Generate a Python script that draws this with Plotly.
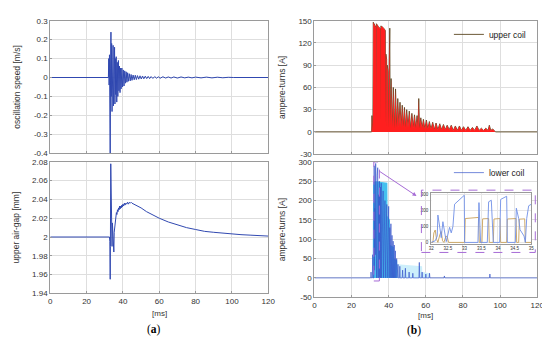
import plotly.graph_objects as go

# ---------------- data ----------------
speed_t = [0, 32.0, 32.2, 32.4, 32.6, 32.8, 33.0, 33.2, 33.4, 33.6, 33.8, 34.0, 34.2, 34.4, 34.6, 34.8,
           35.0, 35.2, 35.4, 35.6, 35.8, 36.0, 36.3, 36.6, 36.9, 37.2, 37.5, 37.8, 38.1, 38.4, 38.7, 39.0,
           39.4, 39.8, 40.2, 40.6, 41.0, 41.4, 41.8, 42.2, 42.6, 43.0, 43.5, 44.0, 44.5, 45.0,
           45.6, 46.2, 46.8, 47.4, 48.0, 48.7, 49.4, 50.1, 50.8, 51.5, 52.3, 53.1, 53.9, 54.7, 55.5,
           56.5, 57.5, 58.5, 59.5, 60.5, 62.0, 63.5, 65.0, 66.5, 68.0, 70.0, 72.0, 74.0, 76.0, 78.0, 80.0,
           83.0, 86.0, 89.0, 92.0, 95.0, 98.0, 101.0, 120.0]
speed_v = [0, 0, 0.10, -0.04, 0.12, -0.12, -0.45, 0.05, 0.24, -0.10, 0.18, -0.18, 0.15, -0.12, 0.17, -0.15,
           0.13, -0.11, 0.16, -0.14, 0.10, -0.09, 0.11, -0.13, 0.08, -0.10, 0.09, -0.07, 0.06, -0.08, 0.05, -0.06,
           0.05, -0.05, 0.04, -0.045, 0.035, -0.03, 0.03, -0.025, 0.025, -0.02, 0.02, -0.018, 0.016, -0.015,
           0.013, -0.012, 0.012, -0.011, 0.01, -0.009, 0.009, -0.008, 0.008, -0.007, 0.007, -0.006, 0.006, -0.006, 0.005,
           -0.005, 0.005, -0.004, 0.004, -0.004, 0.004, -0.003, 0.003, -0.003, 0.003, -0.003, 0.003, -0.002, 0.002, -0.002, 0.002,
           -0.002, 0.002, -0.002, 0.0015, -0.0015, 0.001, 0, 0]

gap_t = [0, 32.6, 32.8, 33.0, 33.1, 33.3, 33.5, 33.7, 34.0, 34.2, 34.4, 34.6, 34.8, 35.0, 35.2, 35.5,
         35.8, 36.1, 36.4, 36.7, 37.0, 37.3, 37.6, 37.9, 38.2, 38.5, 38.8, 39.1, 39.4, 39.7, 40.0,
         40.4, 40.8, 41.2, 41.6, 42.0, 42.5, 43.0, 43.5, 44.0, 44.5, 45.0, 46, 48, 50, 53, 56, 60,
         65, 70, 75, 80, 85, 90, 95, 100, 105, 110, 115, 120]
gap_v = [2.000, 2.000, 1.995, 1.955, 1.990, 2.078, 2.040, 2.000, 1.990, 2.015, 2.000, 1.990, 1.986, 1.984, 2.005, 2.010,
         2.018, 2.020, 2.026, 2.024, 2.029, 2.027, 2.031, 2.029, 2.033, 2.030, 2.033, 2.031, 2.034, 2.032, 2.035,
         2.033, 2.036, 2.034, 2.036, 2.035, 2.037, 2.035, 2.037, 2.036, 2.037, 2.036, 2.035, 2.033, 2.031, 2.027, 2.024, 2.020,
         2.016, 2.013, 2.010, 2.008, 2.006, 2.005, 2.004, 2.003, 2.0025, 2.002, 2.0015, 2.001]

upper_t = [0, 30.8, 31.0, 31.2, 31.5, 31.7, 32.5, 33.2, 33.3, 33.4, 34.5, 35.6, 35.7, 35.8, 37.0,
           38.2, 38.3, 38.5, 38.9, 39.0, 39.2, 39.7, 39.8, 40.6, 40.8,
           41.3, 41.9, 42.5, 43.1, 43.7, 44.3, 44.9, 45.5, 46.1, 46.7, 47.3, 47.9, 48.5, 49.1, 49.7,
           50.4, 51.1, 51.8, 52.5, 53.2, 53.9, 54.6, 55.3, 55.8, 56.2, 56.6, 57.3, 58.0, 58.7, 59.5,
           60.3, 61.1, 61.9, 62.8, 63.7, 64.6, 65.5, 66.5, 67.5, 68.5, 69.5, 70.5, 71.5, 72.6, 73.7,
           74.8, 75.9, 77.0, 78.1, 79.2, 80.3, 81.5, 82.7, 83.9, 85.1, 86.3, 87.5, 88.7, 89.9, 91.1,
           92.3, 93.5, 94.2, 95.0, 96.0, 97.0, 97.5, 120]
upper_a = [0, 0, 22, 0, 0, 148, 144, 141, 12, 146, 142, 139, 8, 143, 141,
           137, 10, 105, 98, 6, 90, 82, 5, 140, 8,
           72, 6, 60, 5, 58, 6, 45, 7, 40, 6, 36, 7, 33, 6, 30,
           6, 28, 5, 25, 6, 23, 5, 22, 5, 45, 5, 19, 5, 17, 4,
           16, 4, 14, 4, 13, 3, 12, 3, 11, 3, 10, 3, 9, 3, 9,
           2, 8, 2, 8, 2, 7, 2, 7, 2, 6, 2, 8, 2, 5, 2,
           5, 2, 9, 2, 4, 1, 0, 0]

lower_t = [0, 30.3, 30.5, 30.7, 31.2, 31.4, 31.6, 32.0, 32.2, 32.4, 32.6, 32.8, 33.0, 33.1, 33.4, 33.5,
           33.8, 33.9, 34.1, 34.3, 34.6, 34.8, 35.0, 35.2, 35.5, 35.7,
           36.0, 36.2, 37.0, 37.2, 38.0, 38.2, 39.0, 39.2, 40.0, 40.2,
           40.6, 40.8, 41.2, 41.4, 41.8, 42.0, 42.4, 42.6, 43.0, 43.2, 43.6, 43.8, 44.3, 44.5, 45.0, 45.2,
           45.8, 46.0, 46.2, 47.3, 47.5, 47.7, 48.8, 49.0, 49.2, 50.8, 51.0, 51.2, 52.8, 53.0, 53.2,
           56.3, 56.5, 56.7, 57.8, 58.0, 58.2, 59.8, 60.0, 60.2, 61.8, 62.0, 62.2, 69.8, 70.0, 70.2,
           94.3, 94.5, 94.7, 120]
lower_a = [0, 0, 15, 0, 0, 60, 0, 0, 290, 20, 180, 60, 296, 0, 255, 0,
           265, 0, 285, 0, 215, 0, 250, 0, 235, 0,
           245, 0, 225, 0, 200, 0, 190, 0, 185, 0,
           130, 0, 140, 0, 110, 0, 95, 0, 85, 0, 70, 0, 50, 0, 35, 0,
           0, 30, 0, 0, 20, 0, 0, 25, 0, 0, 15, 0, 0, 12, 0,
           0, 40, 0, 0, 15, 0, 0, 10, 0, 0, 12, 0, 0, 5, 0,
           0, 10, 0, 0]

lower_env_t = [31.4, 31.6, 33.2, 39.3, 39.4, 40.7, 40.8, 42.8, 42.9, 44.6, 44.7]
lower_env_a = [0, 248, 250, 246, 160, 150, 85, 80, 50, 45, 0]
lower_haze_t = [44.6, 44.7, 58.0, 58.1, 62.0, 62.1]
lower_haze_a = [0, 35, 30, 15, 12, 0]

inset_lower_t = [32.00, 32.12, 32.18, 32.20, 32.26, 32.30, 32.35, 32.42, 32.45, 32.55, 32.60, 32.65, 32.70,
                 32.99, 33.00, 33.40, 33.43, 33.48, 33.68, 33.72, 33.80, 33.86, 34.05, 34.08, 34.26, 34.28,
                 34.52, 34.55, 34.62, 34.66, 34.78, 34.82, 34.86, 34.92, 35.00]
inset_lower_a = [0, 10, 40, 172, 90, 30, 130, 40, 5, 95, 60, 100, 240,
                 296, 0, 0, 250, 0, 0, 255, 265, 0, 0, 270, 290, 0,
                 0, 215, 150, 80, 40, 0, 150, 230, 240]
inset_upper_t = [32.00, 32.05, 32.08, 32.12, 32.16, 32.20, 32.26, 32.30, 32.34, 32.38, 32.44, 32.48, 32.52,
                 33.00, 33.02, 33.42, 33.44, 33.52, 33.54, 33.72, 33.74, 33.86, 33.88, 34.06, 34.08, 34.26,
                 34.28, 34.54, 34.56, 34.62, 34.64, 34.80, 34.82, 35.00]
inset_upper_a = [0, 0, 60, 78, 20, 0, 50, 68, 10, 0, 40, 35, 0,
                 0, 150, 157, 0, 0, 148, 150, 0, 0, 147, 150, 0, 0,
                 147, 150, 0, 0, 146, 148, 0, 0]

ms_ticks = [0, 20, 40, 60, 80, 100, 120]
speed_ticks = [-0.4, -0.3, -0.2, -0.1, 0, 0.1, 0.2, 0.3]
speed_labels = ["-0.4", "-0.3", "-0.2", "-0.1", "0", "0.1", "0.2", "0.3"]
gap_ticks = [1.94, 1.96, 1.98, 2.0, 2.02, 2.04, 2.06, 2.08]
gap_labels = ["1.94", "1.96", "1.98", "2", "2.02", "2.04", "2.06", "2.08"]
upper_ticks = [-30, 0, 30, 60, 90, 120, 150]
upper_labels = ["-30", "0", "30", "60", "90", "120", "150"]
lower_ticks = [-50, 0, 50, 100, 150, 200, 250, 300]
lower_labels = ["-50", "0", "50", "100", "150", "200", "250", "300"]
inset_xticks = [32, 32.5, 33, 33.5, 34, 34.5, 35]
inset_xlabels = ["32", "32.5", "33", "33.5", "34", "34.5", "35"]
inset_yticks = [0, 100, 200, 300]

# ---------------- styles ----------------
FONT = "Liberation Sans"
GRID = "#dedede"
AXLINE = "#9a9a9a"
TICKC = "#333333"
BLUE_A = "#3048b0"
OLIVE = "#5a4620"
RED = "#ff1f1f"
BLUE_B = "#3a58cc"
CYAN = "#45c0ee"
PURPLE = "#a66bd6"

fig = go.Figure()

fig.add_trace(go.Scatter(x=speed_t, y=speed_v, mode="lines", line=dict(color=BLUE_A, width=1),
                         xaxis="x", yaxis="y", showlegend=False))
fig.add_trace(go.Scatter(x=gap_t, y=gap_v, mode="lines", line=dict(color=BLUE_A, width=1),
                         xaxis="x2", yaxis="y2", showlegend=False))

fig.add_trace(go.Scatter(x=upper_t, y=upper_a, mode="lines", line=dict(color=OLIVE, width=0.9),
                         name="upper coil", xaxis="x3", yaxis="y3", legend="legend"))
fig.add_trace(go.Scatter(x=upper_t, y=upper_a, mode="lines", line=dict(width=0), fill="tozeroy",
                         fillcolor=RED, xaxis="x3", yaxis="y3", showlegend=False, hoverinfo="skip"))

fig.add_trace(go.Scatter(x=lower_haze_t, y=lower_haze_a, mode="lines", line=dict(width=0), fill="tozeroy",
                         fillcolor="#cdeffb", xaxis="x4", yaxis="y4", showlegend=False, hoverinfo="skip"))
fig.add_trace(go.Scatter(x=lower_env_t, y=lower_env_a, mode="lines", line=dict(width=0), fill="tozeroy",
                         fillcolor=CYAN, xaxis="x4", yaxis="y4", showlegend=False, hoverinfo="skip"))
fig.add_trace(go.Scatter(x=lower_t, y=lower_a, mode="lines", line=dict(color=BLUE_B, width=0.7),
                         name="lower coil", xaxis="x4", yaxis="y4", legend="legend2"))

fig.add_trace(go.Scatter(x=inset_upper_t, y=inset_upper_a, mode="lines", line=dict(color="#c8a05a", width=0.9),
                         xaxis="x5", yaxis="y5", showlegend=False))
fig.add_trace(go.Scatter(x=inset_lower_t, y=inset_lower_a, mode="lines", line=dict(color="#6f8fe6", width=0.9),
                         xaxis="x5", yaxis="y5", showlegend=False))

def xax(domain, anchor, show_labels):
    return dict(domain=domain, anchor=anchor, range=[0, 120], tickvals=ms_ticks,
                showticklabels=show_labels, showgrid=True, gridcolor=GRID, gridwidth=1,
                showline=True, mirror=True, linecolor=AXLINE, linewidth=1, zeroline=False,
                ticks="inside", ticklen=2, tickcolor=AXLINE,
                tickfont=dict(family=FONT, size=8, color=TICKC))

def yax(domain, anchor, rng, tv, tt, title):
    return dict(domain=domain, anchor=anchor, range=rng, tickvals=tv, ticktext=tt,
                showgrid=True, gridcolor=GRID, gridwidth=1,
                showline=True, mirror=True, linecolor=AXLINE, linewidth=1, zeroline=False,
                ticks="inside", ticklen=2, tickcolor=AXLINE,
                tickfont=dict(family=FONT, size=8, color=TICKC),
                title=dict(text=title, font=dict(family=FONT, size=8.5, color=TICKC), standoff=11))

LX = [40 / 550, 262 / 550]
RX = [309 / 550, 536 / 550]

def ptxt(x, y, text, size=8.5, family=FONT, color=TICKC):
    return dict(xref="paper", yref="paper", x=x / 550, y=1 - y / 339, showarrow=False,
                text=text, font=dict(family=family, size=size, color=color),
                xanchor="center", yanchor="middle")

fig.update_layout(
    width=550, height=339, autosize=False,
    margin=dict(l=0, r=0, t=0, b=0),
    paper_bgcolor="white", plot_bgcolor="white",
    xaxis=xax(LX, "y", False),
    yaxis=yax([1 - 145 / 339, 1 - 9 / 339], "x", [-0.4, 0.3], speed_ticks, speed_labels, "oscillation speed [m/s]"),
    xaxis2=xax(LX, "y2", True),
    yaxis2=yax([1 - 289 / 339, 1 - 154 / 339], "x2", [1.94, 2.08], gap_ticks, gap_labels, "upper air-gap [mm]"),
    xaxis3=xax(RX, "y3", False),
    yaxis3=yax([1 - 146 / 339, 1 - 9 / 339], "x3", [-30, 150], upper_ticks, upper_labels, "ampere-turns [A]"),
    xaxis4=xax(RX, "y4", True),
    yaxis4=yax([1 - 293 / 339, 1 - 154 / 339], "x4", [-50, 300], lower_ticks, lower_labels, "ampere-turns [A]"),
    xaxis5=dict(domain=[428 / 550, 530 / 550], anchor="y5", range=[32, 35], tickvals=inset_xticks,
                ticktext=inset_xlabels, showgrid=True, gridcolor="#e6e6e6", showline=True, mirror=True,
                linecolor=AXLINE, linewidth=1, zeroline=False, ticks="", ticklabelstandoff=0,
                tickfont=dict(family=FONT, size=4.5, color=TICKC)),
    yaxis5=dict(domain=[1 - 238 / 339, 1 - 186 / 339], anchor="x5", range=[-8, 310], tickvals=inset_yticks,
                showgrid=True, gridcolor="#e6e6e6", showline=True, mirror=True,
                linecolor=AXLINE, linewidth=1, zeroline=False, ticks="", ticklabelstandoff=1,
                tickfont=dict(family=FONT, size=4.5, color=TICKC)),
    legend=dict(x=446 / 550, y=1 - 23 / 339, xanchor="left", yanchor="middle", bgcolor="rgba(0,0,0,0)",
                font=dict(family=FONT, size=8.5, color="#222222"), itemwidth=30, borderwidth=0),
    legend2=dict(x=446 / 550, y=1 - 165 / 339, xanchor="left", yanchor="middle", bgcolor="rgba(0,0,0,0)",
                 font=dict(family=FONT, size=8.5, color="#222222"), itemwidth=30, borderwidth=0),
    shapes=[
        dict(type="rect", xref="x4", yref="y4", x0=32, x1=35, y0=-8, y1=300,
             line=dict(color=PURPLE, width=1, dash="dash")),
        dict(type="rect", xref="paper", yref="paper", x0=418 / 550, x1=534 / 550,
             y0=1 - 247 / 339, y1=1 - 183 / 339, line=dict(color=PURPLE, width=1, dash="dash")),
    ],
    annotations=[
        dict(xref="paper", yref="paper", x=413 / 550, y=1 - 189 / 339, ax=-39, ay=-26,
             showarrow=True, arrowhead=2, arrowsize=0.8, arrowwidth=1, arrowcolor=PURPLE, text=""),
        ptxt(151, 310, "[ms]", size=8),
        ptxt(422, 312, "[ms]", size=8),
        ptxt(146, 326, "(<b>a</b>)", size=11.5, family="Liberation Serif", color="black"),
        ptxt(410, 327, "(<b>b</b>)", size=11.5, family="Liberation Serif", color="black"),
    ],
)

fig.write_html("out.html")
